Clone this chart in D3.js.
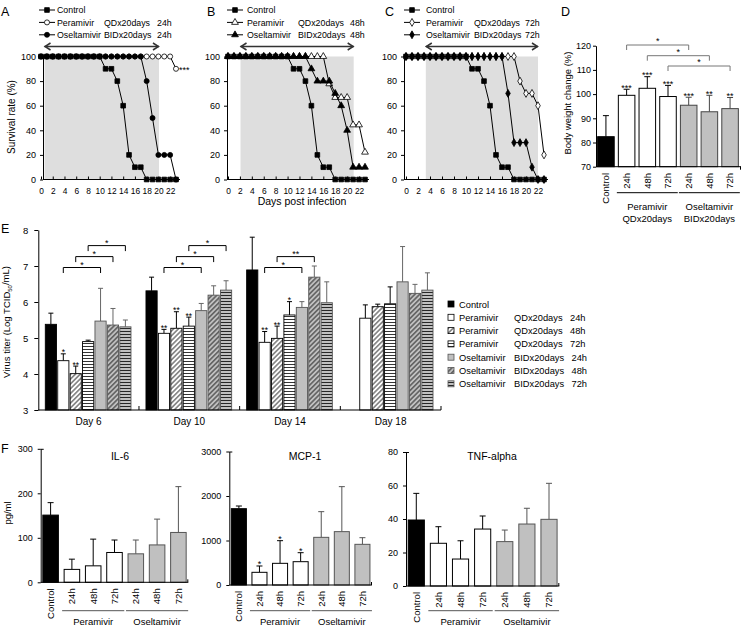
<!DOCTYPE html>
<html><head><meta charset="utf-8">
<script src="https://cdn.jsdelivr.net/npm/d3@7"></script>
<style>body{margin:0;background:#fff}svg{display:block}</style>
</head><body>
<svg id="c" width="754" height="627"></svg>
<script>
// ================= DATA =================
// Survival (panels A-C)
const survDays = [0,1,2,3,4,5,6,7,8,9,10,11,12,13,14,15,16,17,18,19,20,21,22,23];
const survControl = [100,100,100,100,100,100,100,100,100,100,100,90,90,80,60,20,10,10,0,0,0,0,0,0];
const survPera24 = [100,100,100,100,100,100,100,100,100,100,100,100,100,100,100,100,100,100,100,100,100,100,100,90];
const survOsel24 = [100,100,100,100,100,100,100,100,100,100,100,100,100,100,100,100,100,100,80,50,20,20,20,0];
const survPera48 = [100,100,100,100,100,100,100,100,100,100,100,100,100,100,100,100,100,77.8,66.7,66.7,66.7,44.4,44.4,22.2];
const survOsel48 = [100,100,100,100,100,100,100,100,100,100,100,100,100,100,90,80,80,80,70,60,40,10,10,10];
const survPera72 = [100,100,100,100,100,100,100,100,100,100,100,100,100,100,100,100,100,100,100,80,70,70,60,20];
const survOsel72 = [100,100,100,100,100,100,100,100,100,100,100,100,100,100,100,100,100,70,30,30,30,10,0,0];
const treatStart = [0.6, 2.1, 3.3];
const treatEnd = [20.1, 21.1, 22];
const survYTicks = [0,20,40,60,80,100];
const survXTicks = [0,2,4,6,8,10,12,14,16,18,20,22];

// Body weight (panel D)
const bwKeys = ["Control","P24","P48","P72","O24","O48","O72"];
const bwLabels = ["Control","24h","48h","72h","24h","48h","72h"];
const bwValues = [82.4, 99.5, 102.4, 99.0, 95.4, 92.7, 94.0];
const bwErrTop = [91.1, 102.0, 107.2, 103.6, 98.7, 99.5, 98.6];
const bwStars = ["","***","***","***","***","**","**"];
const bwTicks = [70,80,90,100,110,120];
const bwBrackets = [[1,4,"*"],[2,5,"*"],[3,6,"*"]];

// Virus titer (panel E)
const titerDays = ["Day 6","Day 10","Day 14","Day 18"];
const titerSeries = ["Control","Peramivir QDx20days 24h","Peramivir QDx20days 48h","Peramivir QDx20days 72h","Oseltamivir BIDx20days 24h","Oseltamivir BIDx20days 48h","Oseltamivir BIDx20days 72h"];
const titerValues = [
  [5.38, 4.37, 4.01, 4.90, 5.47, 5.36, 5.31],
  [6.31, 5.13, 5.27, 5.33, 5.76, 6.19, 6.33],
  [6.89, 4.88, 4.99, 5.64, 5.85, 6.69, 5.98],
  [null, 5.55, 5.87, 5.95, 6.56, 6.24, 6.33]
];
const titerErrTop = [
  [5.69, 4.56, 4.22, 4.94, 6.38, 5.82, 5.50],
  [6.69, 5.24, 5.73, 5.58, 5.96, 6.45, 6.59],
  [7.80, 5.18, 5.33, 6.01, 6.01, 7.00, 6.56],
  [null, 5.92, 5.94, 6.42, 7.54, 6.49, 6.81]
];
const titerStars = [
  ["","*","**","","","",""],
  ["","**","**","**","","",""],
  ["","**","**","*","","",""],
  ["","","","","","",""]
];
const titerTicks = [3,4,5,6,7,8];
// [day index, from series, to series, level, label]
const titerBrackets = [
  [0,1,4,0,"*"],[0,2,5,1,"*"],[0,3,6,2,"*"],
  [1,1,4,0,"*"],[1,2,5,1,"*"],[1,3,6,2,"*"],
  [2,1,4,0,"*"],[2,2,5,1,"**"]
];

// Cytokines (panel F)
const cytoLabels = ["Control","24h","48h","72h","24h","48h","72h"];
const il6Values = [151, 29, 37, 67, 64, 84, 112];
const il6ErrTop = [179, 52, 97, 95, 95, 142, 215];
const il6Ticks = [0,100,200,300];
const mcpValues = [1715, 285, 487, 524, 1071, 1199, 914];
const mcpErrTop = [1775, 427, 996, 726, 1648, 2210, 1063];
const mcpStars = ["","*","*","*","","",""];
const mcpTicks = [0,1000,2000,3000];
const tnfValues = [39.4, 25.5, 16.1, 34.0, 26.5, 37.0, 39.8];
const tnfErrTop = [55.3, 35.4, 27.0, 41.8, 33.4, 46.4, 61.3];
const tnfTicks = [0,20,40,60,80];

// ================= DRAW =================
const FONT = '"Liberation Sans", Arial, Helvetica, sans-serif';
const svg = d3.select("#c");
const GRAY = "#c0c0c0";
const fmt = d3.format("d");

function text(x, y, s, o = {}) {
  const t = svg.append("text").attr("x", x).attr("y", y).text(s)
    .attr("font-family", FONT).attr("font-size", o.size || 9.5)
    .attr("fill", o.fill || "#000")
    .attr("text-anchor", o.anchor || "start");
  if (o.rotate) t.attr("transform", `rotate(-90,${x},${y})`);
  if (o.dy) t.attr("dy", o.dy);
  return t;
}
function styleAxis(g, size) {
  g.attr("font-family", FONT).attr("font-size", size || 9);
  g.selectAll("line").attr("stroke", "#000");
  g.selectAll("path").attr("stroke", "#000");
  g.selectAll("text").attr("fill", "#000");
}

// panel letters
text(1, 16, "A", {size: 12.5});
text(207, 16, "B", {size: 12.5});
text(385, 16, "C", {size: 12.5});
text(561, 16, "D", {size: 12.5});
text(1, 233, "E", {size: 12.5});
text(1, 453, "F", {size: 12.5});

// defs/patterns
const defs = svg.append("defs");
function pattern(id, bg, kind) {
  const w = kind === "diag" ? 3.4 : 4, h = kind === "diag" ? 3.4 : 3;
  const p = defs.append("pattern").attr("id", id).attr("patternUnits", "userSpaceOnUse")
    .attr("width", w).attr("height", h);
  if (kind === "diag") p.attr("patternTransform", "rotate(45)");
  p.append("rect").attr("width", w).attr("height", h).attr("fill", bg);
  if (kind === "diag") p.append("line").attr("x1", 1.7).attr("x2", 1.7).attr("y1", 0).attr("y2", h).attr("stroke", "#000").attr("stroke-width", 0.8);
  else p.append("line").attr("x1", 0).attr("x2", w).attr("y1", 1.5).attr("y2", 1.5).attr("stroke", "#000").attr("stroke-width", 0.8);
}
pattern("pDiagW", "#fff", "diag");
pattern("pHorW", "#fff", "hor");
pattern("pDiagG", GRAY, "diag");
pattern("pHorG", GRAY, "hor");
const titerFill = ["#000", "#fff", "url(#pDiagW)", "url(#pHorW)", GRAY, "url(#pDiagG)", "url(#pHorG)"];
const titerStroke = ["#000", "#000", "#000", "#000", "#555", "#555", "#555"];

// ---------- Survival panels ----------
const symMap = {square: d3.symbolSquare, circle: d3.symbolCircle, triangle: d3.symbolTriangle, diamond: d3.symbolDiamond};
const symSize = {square: 22, circle: 20, triangle: 20, diamond: 18};
const survPanels = [
  {ax: 43, x0: 41, x1: 176, pera: survPera24, osel: survOsel24, sym: "circle", dose: "24h", mx: 47, tx: 57, tx2: 104, tx3: 157, k: 0},
  {ax: 227, x0: 228, x1: 365, pera: survPera48, osel: survOsel48, sym: "triangle", dose: "48h", mx: 235, tx: 247, tx2: 298, tx3: 350, k: 1},
  {ax: 404, x0: 406, x1: 544, pera: survPera72, osel: survOsel72, sym: "diamond", dose: "72h", mx: 412, tx: 426, tx2: 474, tx3: 525, k: 2}
];
survPanels.forEach(p => {
  const x = d3.scaleLinear().domain([0, 23]).range([p.x0, p.x1]);
  const y = d3.scaleLinear().domain([0, 100]).range([179.5, 56.5]);
  const g = svg.append("g");
  const gx0 = x(treatStart[p.k]), gx1 = x(treatEnd[p.k]);
  g.append("rect").attr("x", gx0).attr("y", y(100)).attr("width", gx1 - gx0).attr("height", y(0) - y(100)).attr("fill", "#dedede");
  const ay = 46.5;
  g.append("line").attr("x1", gx0).attr("x2", gx1).attr("y1", ay).attr("y2", ay).attr("stroke", "#333").attr("stroke-width", 1.3);
  g.append("path").attr("d", `M${gx0 + 6},${ay - 3.5}L${gx0 + 0.5},${ay}L${gx0 + 6},${ay + 3.5}M${gx1 - 6},${ay - 3.5}L${gx1 - 0.5},${ay}L${gx1 - 6},${ay + 3.5}`)
    .attr("fill", "none").attr("stroke", "#333").attr("stroke-width", 1.5);
  const ya = svg.append("g").attr("transform", `translate(${p.ax},0)`)
    .call(d3.axisLeft(y).tickValues(survYTicks).tickFormat(fmt).tickSize(3).tickSizeOuter(0).tickPadding(4));
  styleAxis(ya, 9);
  const xa = svg.append("g").attr("transform", `translate(0,${y(0)})`)
    .call(d3.axisBottom(x).tickValues(survXTicks).tickFormat(fmt).tickSize(-3).tickSizeOuter(0).tickPadding(9));
  xa.select(".domain").remove();
  styleAxis(xa, 8.4);
  svg.append("line").attr("x1", p.ax).attr("x2", x(23) + 4).attr("y1", y(0)).attr("y2", y(0)).attr("stroke", "#000");
  const list = [
    {v: p.pera, sym: p.sym, fill: "#fff"},
    {v: p.osel, sym: p.sym, fill: "#000"},
    {v: survControl, sym: "square", fill: "#000"}
  ];
  list.forEach(s => {
    svg.append("path").datum(survDays)
      .attr("d", d3.line().x(d => x(d)).y((d, i) => y(s.v[i])))
      .attr("fill", "none").attr("stroke", "#000").attr("stroke-width", 1);
    svg.append("g").selectAll("path").data(survDays).join("path")
      .attr("transform", (d, i) => `translate(${x(d)},${y(s.v[i])})`)
      .attr("d", d3.symbol(symMap[s.sym], symSize[s.sym]))
      .attr("fill", s.fill).attr("stroke", "#000").attr("stroke-width", 0.8);
  });
  const rows = [
    {sym: "square", fill: "#000", t: ["Control"]},
    {sym: p.sym, fill: "#fff", t: ["Peramivir", "QDx20days", p.dose]},
    {sym: p.sym, fill: "#000", t: ["Oseltamivir", "BIDx20days", p.dose]}
  ];
  rows.forEach((r, i) => {
    const cy = 10 + i * 12.4;
    svg.append("line").attr("x1", p.mx - 8).attr("x2", p.mx + 8).attr("y1", cy).attr("y2", cy).attr("stroke", "#000");
    svg.append("path").attr("transform", `translate(${p.mx},${cy})`).attr("d", d3.symbol(symMap[r.sym], symSize[r.sym]))
      .attr("fill", r.fill).attr("stroke", "#000").attr("stroke-width", 0.8);
    const xs = [p.tx, p.tx2, p.tx3];
    r.t.forEach((s, j) => text(xs[j], cy + 3.3, s, {size: 8.8}));
  });
  if (p.k === 0) text(x(23) + 3, y(90) + 4.5, "***", {size: 9});
});
text(11.5, 117, "Survival rate (%)", {size: 10, rotate: true, anchor: "middle", dy: "0.35em"});
text(302, 205, "Days post infection", {size: 10.5, anchor: "middle"});

// ---------- Panel D ----------
(function () {
  const x = d3.scaleBand().domain(bwKeys).range([596, 740]).paddingInner(0.2).paddingOuter(0.08);
  const y = d3.scaleLinear().domain([70, 120]).range([166.7, 45.7]);
  const fills = ["#000", "#fff", "#fff", "#fff", GRAY, GRAY, GRAY];
  const strokes = ["#000", "#000", "#000", "#000", "#444", "#444", "#444"];
  const ya = svg.append("g").attr("transform", "translate(596,0)")
    .call(d3.axisLeft(y).tickValues(bwTicks).tickFormat(fmt).tickSize(3).tickSizeOuter(0).tickPadding(2));
  styleAxis(ya, 9);
  bwKeys.forEach((k, i) => {
    const cx = x(k) + x.bandwidth() / 2;
    svg.append("line").attr("x1", cx).attr("x2", cx).attr("y1", y(bwValues[i])).attr("y2", y(bwErrTop[i])).attr("stroke", strokes[i]);
    svg.append("line").attr("x1", cx - 3).attr("x2", cx + 3).attr("y1", y(bwErrTop[i])).attr("y2", y(bwErrTop[i])).attr("stroke", strokes[i]);
    svg.append("rect").attr("x", x(k)).attr("y", y(bwValues[i])).attr("width", x.bandwidth()).attr("height", y(70) - y(bwValues[i]))
      .attr("fill", fills[i]).attr("stroke", strokes[i]).attr("stroke-width", 1);
    if (bwStars[i]) text(cx, y(bwErrTop[i]) + 1.5, bwStars[i], {size: 9, anchor: "middle"});
    text(cx, 173, bwLabels[i], {size: 9.5, rotate: true, anchor: "end", dy: "0.35em"});
  });
  svg.append("line").attr("x1", 596).attr("x2", 741).attr("y1", y(70)).attr("y2", y(70)).attr("stroke", "#000");
  svg.append("line").attr("x1", 740.5).attr("x2", 740.5).attr("y1", y(70)).attr("y2", y(70) + 3).attr("stroke", "#000");
  const by = [45, 55.7, 66];
  bwBrackets.forEach((b, i) => {
    const xa = x(bwKeys[b[0]]) + x.bandwidth() / 2, xb = x(bwKeys[b[1]]) + x.bandwidth() / 2;
    svg.append("path").attr("d", `M${xa},${by[i] + 5}V${by[i]}H${xb}V${by[i] + 5}`).attr("fill", "none").attr("stroke", "#777");
    text((xa + xb) / 2, by[i] - 0.7, b[2], {size: 9, anchor: "middle"});
  });
  const gl = [[1, 3, "Peramivir", "QDx20days"], [4, 6, "Oseltamivir", "BIDx20days"]];
  gl.forEach(d => {
    const a = x(bwKeys[d[0]]) - 1.5, b = x(bwKeys[d[1]]) + x.bandwidth() + 1.5;
    svg.append("line").attr("x1", a).attr("x2", b).attr("y1", 192.7).attr("y2", 192.7).attr("stroke", "#000");
    text((a + b) / 2, 210, d[2], {size: 9.5, anchor: "middle"});
    text((a + b) / 2, 222, d[3], {size: 9.5, anchor: "middle"});
  });
  text(571, 103, "Body weight change (%)", {size: 9.5, rotate: true, anchor: "middle"});
})();

// ---------- Panel E ----------
(function () {
  const y = d3.scaleLinear().domain([3, 8]).range([410, 230]);
  const xg = d3.scaleBand().domain(titerDays).range([38.3, 441]);
  const xi = d3.scaleBand().domain(titerSeries).range([7, xg.bandwidth() - 8]).paddingInner(0.1);
  const ya = svg.append("g").attr("transform", "translate(38.3,0)")
    .call(d3.axisLeft(y).tickValues(titerTicks).tickFormat(fmt).tickSize(4).tickSizeOuter(0).tickPadding(6));
  styleAxis(ya, 9.5);
  titerDays.forEach((day, gi) => {
    titerSeries.forEach((s, si) => {
      const v = titerValues[gi][si];
      if (v == null) return;
      const bx = xg(day) + xi(s), cx = bx + xi.bandwidth() / 2;
      const ec = si >= 4 ? "#666" : "#000";
      const et = titerErrTop[gi][si];
      svg.append("line").attr("x1", cx).attr("x2", cx).attr("y1", y(v)).attr("y2", y(et)).attr("stroke", ec);
      svg.append("line").attr("x1", cx - 2.5).attr("x2", cx + 2.5).attr("y1", y(et)).attr("y2", y(et)).attr("stroke", ec);
      svg.append("rect").attr("x", bx).attr("y", y(v)).attr("width", xi.bandwidth()).attr("height", y(3) - y(v))
        .attr("fill", titerFill[si]).attr("stroke", titerStroke[si]).attr("stroke-width", 0.9);
      const st = titerStars[gi][si];
      if (st) text(cx, y(et) + 1.5, st, {size: 8.5, anchor: "middle"});
    });
    text(xg(day) + xg.bandwidth() / 2, 424.5, day, {size: 10, anchor: "middle"});
    const bx = xg(day) + xg.bandwidth();
    svg.append("line").attr("x1", bx).attr("x2", bx).attr("y1", 410).attr("y2", 406).attr("stroke", "#000");
  });
  svg.append("line").attr("x1", 38.3).attr("x2", 441).attr("y1", 410).attr("y2", 410).attr("stroke", "#000");
  const levels = [267.5, 256.6, 245.6];
  titerBrackets.forEach(b => {
    const day = titerDays[b[0]];
    const xa = xg(day) + xi(titerSeries[b[1]]) + xi.bandwidth() / 2;
    const xb = xg(day) + xi(titerSeries[b[2]]) + xi.bandwidth() / 2;
    const ly = levels[b[3]];
    svg.append("path").attr("d", `M${xa},${ly + 5.5}V${ly}H${xb}V${ly + 5.5}`).attr("fill", "none").attr("stroke", "#000").attr("stroke-width", 1);
    text((xa + xb) / 2, ly + 0.6, b[4], {size: 9, anchor: "middle"});
  });
  const t = svg.append("text").attr("transform", "translate(10,322) rotate(-90)").attr("text-anchor", "middle")
    .attr("font-family", FONT).attr("font-size", 9.5);
  t.append("tspan").text("Virus titer (Log TCID");
  t.append("tspan").attr("font-size", 6).attr("dy", "0.3em").text("50");
  t.append("tspan").attr("dy", "-0.3em").text("/mL)");
  const legTexts = [["Control"], ["Peramivir", "QDx20days", "24h"], ["Peramivir", "QDx20days", "48h"], ["Peramivir", "QDx20days", "72h"],
    ["Oseltamivir", "BIDx20days", "24h"], ["Oseltamivir", "BIDx20days", "48h"], ["Oseltamivir", "BIDx20days", "72h"]];
  titerSeries.forEach((s, i) => {
    const cy = 304 + i * 13.3;
    svg.append("rect").attr("x", 448).attr("y", cy - 3).attr("width", 6).attr("height", 6)
      .attr("fill", titerFill[i]).attr("stroke", titerStroke[i]).attr("stroke-width", 0.8);
    const xs = [459, 514, i >= 4 ? 571.5 : 570];
    legTexts[i].forEach((w, j) => text(xs[j], cy + 3.5, w, {size: 9.3}));
  });
})();

// ---------- Panel F ----------
function cyto(cfg) {
  const x = d3.scaleBand().domain(d3.range(cytoLabels.length)).range([cfg.ax, cfg.ax1]).paddingInner(0.27).paddingOuter(0.1);
  const y = d3.scaleLinear().domain([0, cfg.max]).range([cfg.y0, cfg.yTop]);
  const ya = svg.append("g").attr("transform", `translate(${cfg.ax},0)`)
    .call(d3.axisLeft(y).tickValues(cfg.ticks).tickFormat(fmt).tickSize(3).tickSizeOuter(0).tickPadding(5));
  styleAxis(ya, 9);
  svg.append("line").attr("x1", cfg.ax).attr("x2", cfg.ax + 3).attr("y1", cfg.yTop + 0.5).attr("y2", cfg.yTop + 0.5).attr("stroke", "#000");
  const fills = ["#000", "#fff", "#fff", "#fff", GRAY, GRAY, GRAY];
  const strokes = ["#000", "#000", "#000", "#000", "#555", "#555", "#555"];
  cfg.values.forEach((v, i) => {
    const cx = x(i) + x.bandwidth() / 2, et = cfg.err[i];
    const ec = i >= 4 ? "#555" : "#000";
    svg.append("line").attr("x1", cx).attr("x2", cx).attr("y1", y(v)).attr("y2", y(et)).attr("stroke", ec);
    svg.append("line").attr("x1", cx - 3).attr("x2", cx + 3).attr("y1", y(et)).attr("y2", y(et)).attr("stroke", ec);
    svg.append("rect").attr("x", x(i)).attr("y", y(v)).attr("width", x.bandwidth()).attr("height", y(0) - y(v))
      .attr("fill", fills[i]).attr("stroke", strokes[i]).attr("stroke-width", 1);
    if (cfg.stars && cfg.stars[i]) text(cx, y(et) + 1.5, cfg.stars[i], {size: 9, anchor: "middle"});
    text(cx, cfg.y0 + 6, cytoLabels[i], {size: 9.5, rotate: true, anchor: "end", dy: "0.35em"});
  });
  svg.append("line").attr("x1", cfg.ax).attr("x2", cfg.ax1).attr("y1", cfg.y0).attr("y2", cfg.y0).attr("stroke", "#000");
  svg.append("line").attr("x1", cfg.ax1 - 0.5).attr("x2", cfg.ax1 - 0.5).attr("y1", cfg.y0).attr("y2", cfg.y0 - 3).attr("stroke", "#000");
  [[1, 3, "Peramivir"], [4, 6, "Oseltamivir"]].forEach(d => {
    const a = x(d[0]) - 2, b = x(d[1]) + x.bandwidth() + 2;
    svg.append("line").attr("x1", a).attr("x2", b).attr("y1", 610.7).attr("y2", 610.7).attr("stroke", "#555");
    text((a + b) / 2, 625, d[2], {size: 9.5, anchor: "middle"});
  });
  text(cfg.tx, 459.5, cfg.title, {size: 10.5, anchor: "middle"});
}
cyto({ax: 40.7, ax1: 188.3, y0: 582.3, yTop: 448.8, max: 300, ticks: il6Ticks, values: il6Values, err: il6ErrTop, title: "IL-6", tx: 120});
cyto({ax: 229.3, ax1: 372, y0: 585, yTop: 451.5, max: 3000, ticks: mcpTicks, values: mcpValues, err: mcpErrTop, stars: mcpStars, title: "MCP-1", tx: 305});
cyto({ax: 406, ax1: 559.3, y0: 586, yTop: 452, max: 80, ticks: tnfTicks, values: tnfValues, err: tnfErrTop, title: "TNF-alpha", tx: 492});
text(8, 513, "pg/ml", {size: 9.5, rotate: true, anchor: "middle", dy: "0.35em"});
</script>
</body></html>
